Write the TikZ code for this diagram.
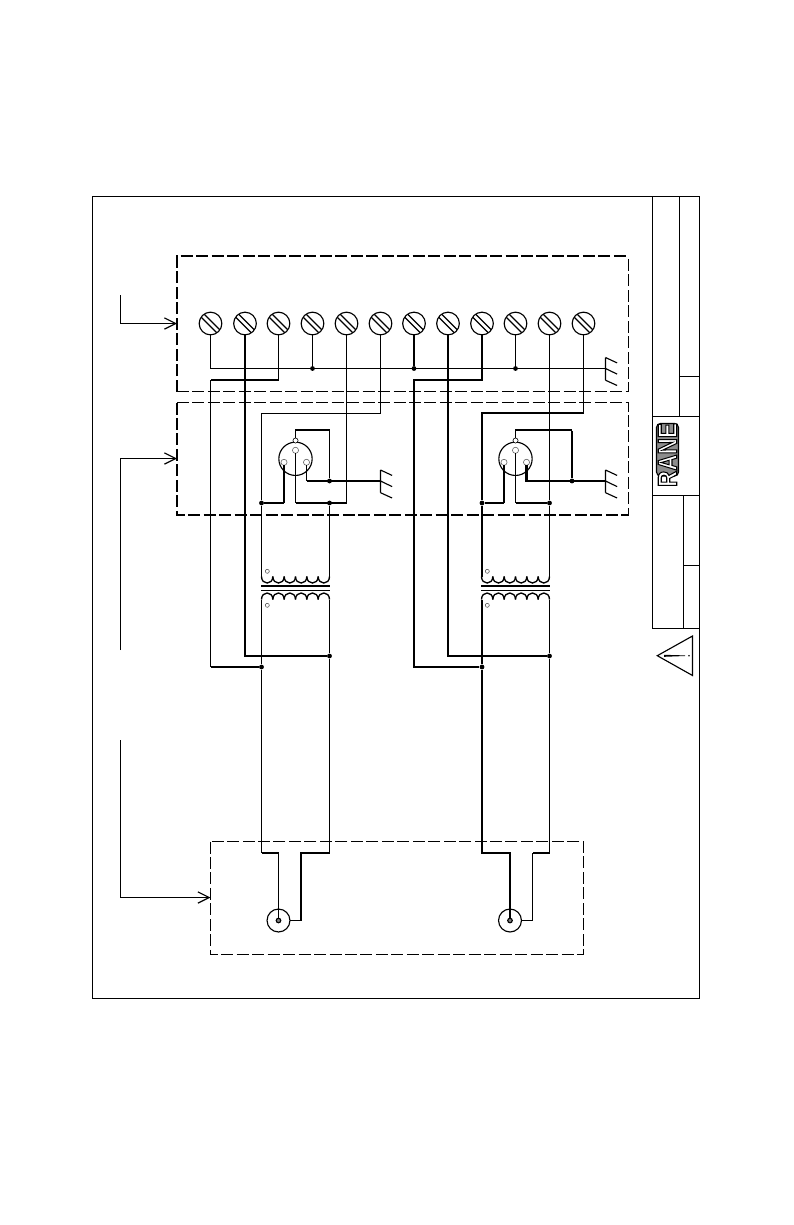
\documentclass[tikz,border=0pt]{standalone}
\usepackage{fontspec}
\setsansfont{Liberation Sans}
\usetikzlibrary{positioning, arrows.meta}
\tikzset{
thinwire/.style={line width=.85pt}, % single conductor
thickwire/.style={line width=1.6pt}, % heavy conductor
heavydash/.style={line width=1.5pt, dash pattern=on 9pt off 2.6pt}, % heavy box sides
lightdash/.style={line width=.85pt, dash pattern=on 9pt off 2.6pt}, % light box sides
leader/.style={line width=.85pt, -{Straight Barb[length=8.5pt,width=8.5pt]}}, % pointer into a box
screw/.style={circle, draw, line width=.85pt, inner sep=0pt, outer sep=0pt, minimum size=17pt,
  path picture={
    \draw[line width=.85pt, shift={(path picture bounding box.center)}] (-9,-12) -- (12,9) (-12,-9) -- (9,12);
  }},
junc/.style={circle, fill, inner sep=0pt, minimum size=3.6pt}, % wire joint
xlrhole/.style={circle, draw=black!60, fill=white, line width=.45pt, inner sep=0pt, outer sep=0pt, minimum size=4.6pt},
phasemark/.style={circle, draw=black!70, line width=.4pt, inner sep=0pt, minimum size=3pt},
coax/.style={circle, draw, line width=.85pt, inner sep=0pt, outer sep=0pt, minimum size=17.2pt},
coaxcore/.style={circle, draw, fill=black!50, line width=.85pt, inner sep=0pt, outer sep=0pt, minimum size=3.4pt},
chassis/.pic={
  \coordinate (mid) at (0,0);
  \draw[thinwire] (0,-11) -- (0,11.7)
    (0,-11) -- (11.6,-5.6) (0,0) -- (11.6,5.6) (0,11.7) -- (11.6,17);
},
xlr/.pic={
  \node[circle, draw, line width=.85pt, inner sep=0pt, outer sep=0pt, minimum size=25pt] (shell) at (0,0) {};
  \node[xlrhole] (hm) at (0,-8.5) {};
  \node[xlrhole] (hl) at (-11.5,3.5) {};
  \node[xlrhole] (hr) at (11,3.5) {};
  \node[xlrhole, draw=black, minimum size=3.8pt] (tab) at (0,-18.3) {};
},
xfmr/.pic={
  \coordinate (ul) at (0,-11.5);
  \coordinate (ur) at (68,-11.5);
  \coordinate (ll) at (0,11.5);
  \coordinate (lr) at (68,11.5);
  \draw[thickwire] (-.5,-2.3) -- (68.5,-2.3);
  \draw[thinwire] (-.5,2.3) -- (68.5,2.3);
  \foreach \k in {0,...,5} {
    \draw[line width=1pt] (\k*11.333,-11.5) .. controls (\k*11.333,-2.8) and ({(\k+1)*11.333},-2.8) .. ({(\k+1)*11.333},-11.5);
    \draw[line width=1pt] (\k*11.333,11.5) .. controls (\k*11.333,2.8) and ({(\k+1)*11.333},2.8) .. ({(\k+1)*11.333},11.5);
  }
  \node[phasemark] (ma) at (5.8,-16.7) {};
  \node[phasemark] (mb) at (5.8,17.3) {};
},
}

\begin{document}
\begin{tikzpicture}[x=.75pt, y=-.75pt]
  \useasboundingbox (0,0) rectangle (793,1225);

  % drawing frame and title block
  \draw[thinwire] (92.5,196.5) rectangle (699.5,998.5);
  \draw[thinwire] (652.5,196.5) -- (652.5,628.5) -- (699.5,628.5)
    (679.5,196.5) -- (679.5,416.5) (679.5,376.5) -- (699.5,376.5)
    (652.5,416.5) -- (699.5,416.5) (652.5,495.5) -- (699.5,495.5)
    (683.5,495.5) -- (683.5,628.5) (683.5,565.5) -- (699.5,565.5);
  \draw[thinwire] (692.5,636) -- (657.3,655.7) -- (692.5,675.5) -- cycle;
  \fill (664,654.8) -- (685,655.4) -- (685,656) -- (664,656.8) -- cycle;
  \fill (689,655.7) circle (.9);

  % logo
  \draw[line width=.85pt, fill=black!45, rounded corners=3pt] (656.5,423.5) rectangle (678.5,476);
  \node[rotate=90, xscale=.94, yscale=1.12, inner sep=0pt, font=\sffamily\bfseries\fontsize{18}{18}\selectfont] (logo) at (667.5,455) {\special{pdf:code 2 Tr .8 w 1 g 0 G}RANE\special{pdf:code 0 Tr 0 g}};

  % dashed boxes
  \draw[heavydash] (177,391.5) |- (628.5,256);
  \draw[lightdash] (177,391.5) -| (628.5,256);
  \draw[heavydash] (177,402.5) |- (628.5,515);
  \draw[lightdash] (177,402.5) -| (628.5,515);
  \draw[lightdash] (210.5,841.5) rectangle (583.5,954.5);

  % pointers
  \coordinate (taila) at (120.5,295);
  \coordinate (tailb) at (120.5,650);
  \coordinate (tailc) at (120.5,740);
  \coordinate (heada) at (177,323.5);
  \coordinate (headb) at (177,458.5);
  \coordinate (headc) at (210.5,897.5);
  \draw[leader] (taila) |- (heada);
  \draw[leader] (tailb) |- (headb);
  \draw[leader] (tailc) |- (headc);

  % terminal strip
  \foreach \n/\xpos in {1/210.5, 2/245, 3/278.5, 4/312.5, 5/346.5, 6/380.5, 7/414, 8/448, 9/482, 10/515.5, 11/549.5, 12/583.5}
    \node[screw] (s\n) at (\xpos,323.5) {};

  % grounds, connectors, transformers, jacks
  \pic (ga) at (605.5,368.5) {chassis};
  \pic (gb) at (380.5,481) {chassis};
  \pic (gc) at (605.5,481) {chassis};
  \pic (xa) at (295.5,458.8) {xlr};
  \pic (xb) at (515.5,458.8) {xlr};
  \pic (ta) at (261.5,588) {xfmr};
  \pic (tb) at (481.5,588) {xfmr};
  \node[coax] (cxa) at (278.5,920.5) {};
  \node[coaxcore] (corea) at (278.5,920.5) {};
  \node[coax] (cxb) at (510,920.5) {};
  \node[coaxcore] (coreb) at (510,920.5) {};

  % joints
  \node[junc] (j4) at (s4 |- gamid) {};
  \node[junc] (j7) at (s7 |- gamid) {};
  \node[junc] (j10) at (s10 |- gamid) {};
  \node[junc] (ja) at (261.5,503) {};
  \node[junc] (jb) at (329.5,503) {};
  \node[junc] (jc) at (329.5,481) {};
  \node[junc] (jd) at (329.5,656) {};
  \node[junc] (je) at (261.5,667) {};
  \node[junc] (jf) at (482,503) {};
  \node[junc] (jg) at (549.5,503) {};
  \node[junc] (jh) at (572,481) {};
  \node[junc] (ji) at (549.5,656) {};
  \node[junc] (jj) at (482,667) {};

  % bends
  \coordinate (ka) at (380.5,413.5);
  \coordinate (kb) at (583.5,413);
  \coordinate (kc) at (278.5,380);
  \coordinate (kd) at (210.5,380);
  \coordinate (ke) at (414,380);
  \coordinate (bl) at (261.5,853);
  \coordinate (br) at (329.5,853);
  \coordinate (bm) at (301,853);
  \coordinate (cl) at (482,853);
  \coordinate (cr) at (549.5,853);
  \coordinate (cm) at (532.5,853);

  % ground bus
  \draw[thinwire] (s1.south) |- (gamid);
  \draw[thinwire] (s4.south) -- (j4);
  \draw[thickwire] (s7.south) -- (j7);
  \draw[thinwire] (s10.south) -- (j10);

  % left channel
  \draw[thickwire] (s2.south) |- (jd);
  \draw[thinwire] (s3.south) -- (s3 |- kc);
  \draw[thickwire] (s3 |- kc) -- (kd);
  \draw[thinwire] (kd) -- (kd |- je);
  \draw[thickwire] (kd |- je) -- (je);
  \draw[thinwire] (s5.south) -- (s5 |- ja);
  \draw[thickwire] (s5 |- ja) -- (xahm |- ja);
  \draw[thinwire] (xahm.south) -- (xahm |- ja);
  \draw[thinwire] (s6.south) -- (ka) -- (ka -| ja) -- (ja);
  \draw[thinwire] (xahl.south) -- (xahl |- ja);
  \draw[thickwire] (xahl |- ja) -- (ja);
  \draw[thinwire] (xatab.north) -- ++(0,-8) -| (jc);
  \draw[thinwire] (xahr.south) -- (xahr |- jc);
  \draw[thickwire] (xahr |- jc) -- (gbmid);
  \draw[thinwire] (ja) -- (taul);
  \draw[thinwire] (jb) -- (taur);
  \draw[thinwire] (tall) -- (je) -- (bl);
  \draw[thinwire] (talr) -- (jd) -- (br);
  \draw[thickwire] (bl) -- (bl -| corea);
  \draw[thinwire] (bl -| corea) -- (corea);
  \draw[thickwire] (br) -- (bm) -- (bm |- cxa);
  \draw[thinwire] (bm |- cxa) -- (cxa.east);

  % right channel
  \draw[thickwire] (s8.south) |- (ji);
  \draw[thickwire] (s9.south) |- (ke) -- (ke |- jj) -- (jj);
  \draw[thinwire] (s11.south) -- (jg);
  \draw[thickwire] (jg) -- (xbhm |- jg);
  \draw[thinwire] (xbhm.south) -- (xbhm |- jg);
  \draw[thinwire] (s12.south) -- (kb);
  \draw[thickwire] (kb) -- (kb -| jf) -- (jf) -- (jf |- tbul);
  \draw[thinwire] (xbhl.south) -- (xbhl |- jf);
  \draw[thickwire] (xbhl |- jf) -- (jf);
  \draw[thinwire] (xbtab.north) -- ++(0,-8) -- ++(56.5,0);
  \draw[thickwire] (jh |- 0,430.5) -- (jh);
  \draw[thickwire] (xbhr.south) -- (xbhr |- jh) -- (gcmid);
  \draw[thinwire] (jg) -- (tbur);
  \draw[thickwire] (jj |- tbll) -- (jj) -- (cl) -- (cl -| coreb) -- (coreb);
  \draw[thinwire] (tblr) -- (ji) -- (cr);
  \draw[thickwire] (cr) -- (cm);
  \draw[thinwire] (cm) -- (cm |- cxb) -- (cxb.east);
\end{tikzpicture}
\end{document}
